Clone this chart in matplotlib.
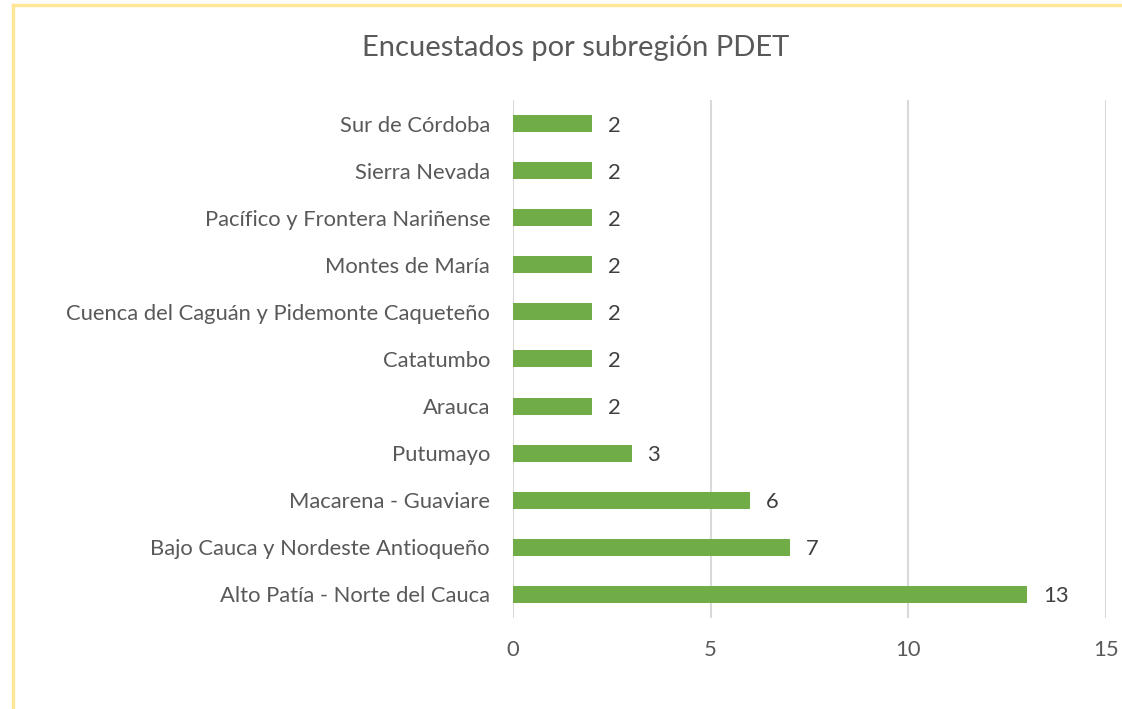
import matplotlib.pyplot as plt
from matplotlib.lines import Line2D

plt.rcParams['font.family'] = ['Lato', 'DejaVu Sans']

categories = [
    'Alto Patía - Norte del Cauca',
    'Bajo Cauca y Nordeste Antioqueño',
    'Macarena - Guaviare',
    'Putumayo',
    'Arauca',
    'Catatumbo',
    'Cuenca del Caguán y Pidemonte Caqueteño',
    'Montes de María',
    'Pacífico y Frontera Nariñense',
    'Sierra Nevada',
    'Sur de Córdoba',
]
values = [13, 7, 6, 3, 2, 2, 2, 2, 2, 2, 2]
x_ticks = [0, 5, 10, 15]

fig = plt.figure(figsize=(11.22, 7.09), dpi=100)
ax = fig.add_axes([0.4572, 0.1284, 0.5285, 0.7306])

pos = range(len(categories))
ax.barh(pos, values, height=0.36, color='#70AD47', zorder=3)
for p, v in zip(pos, values):
    ax.text(v + 0.4, p, str(v), va='center_baseline', ha='left', fontsize=15.8, color='#404040')

ax.set_xlim(0, 15)
ax.set_ylim(-0.5, len(categories) - 0.5)
ax.set_xticks(x_ticks)
ax.set_yticks(list(pos))
ax.set_yticklabels(categories, va='center_baseline')
ax.grid(axis='x', color='#D9D9D9', linewidth=1.5, zorder=0)
for s in ax.spines.values():
    s.set_visible(False)
ax.tick_params(length=0, labelsize=15.8, labelcolor='#595959')
ax.tick_params(axis='y', pad=16.5)
ax.tick_params(axis='x', pad=16)

fig.text(0.513, 0.932, 'Encuestados por subregión PDET', ha='center', va='center',
         fontsize=21, color='#595959')

# chart frame
border = '#FFE699'
fig.add_artist(Line2D([0.0115, 1.0], [0.9936, 0.9936], color=border, linewidth=2.5))
fig.add_artist(Line2D([0.0115, 0.0115], [0.0, 0.9936], color=border, linewidth=2.5))

fig.savefig('out.png', dpi=100)
